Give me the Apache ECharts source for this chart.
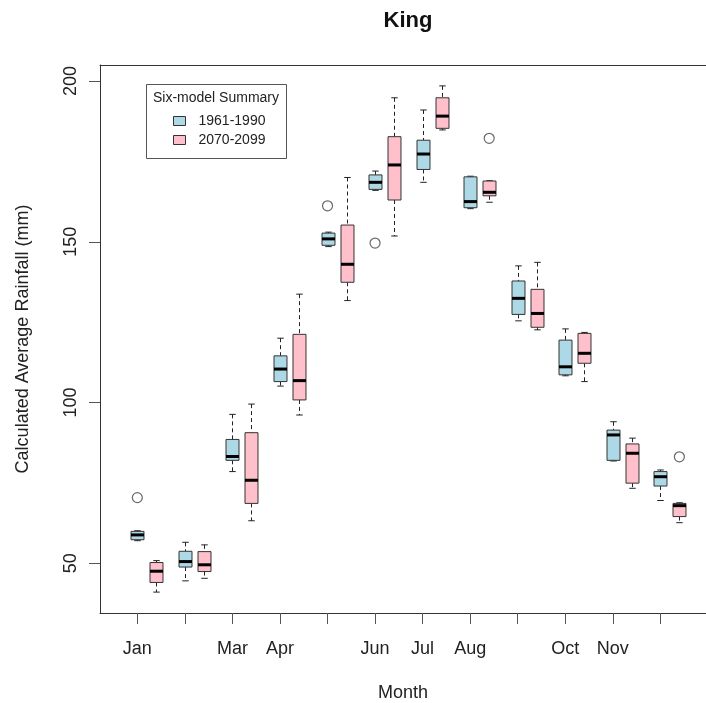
<!DOCTYPE html>
<html>
<head>
<meta charset="utf-8">
<script src="https://cdn.jsdelivr.net/npm/echarts@6/dist/echarts.min.js"></script>
<style>html,body{margin:0;padding:0;background:#fff;}#c{width:706px;height:703px;}</style>
</head>
<body>
<div id="c"></div>
<script>
// ---- data ----
const months = ['Jan','Feb','Mar','Apr','May','Jun','Jul','Aug','Sep','Oct','Nov','Dec'];
const tickLabels = ['Jan','','Mar','Apr','','Jun','Jul','Aug','','Oct','Nov',''];
const yTicks = [50, 100, 150, 200];
const seriesNames = ['1961-1990', '2070-2099'];
// [lower whisker, Q1, median, Q3, upper whisker]
const box1961 = [
  [57.0, 57.3, 58.8, 59.9, 60.1],
  [44.5, 48.8, 50.5, 53.7, 56.5],
  [78.5, 82.0, 83.2, 88.5, 96.3],
  [105.1, 106.5, 110.4, 114.5, 120.0],
  [148.5, 148.9, 150.9, 152.7, 153.0],
  [166.0, 166.3, 168.5, 170.8, 172.0],
  [168.5, 172.5, 177.3, 181.6, 191.0],
  [160.3, 160.6, 162.5, 170.2, 170.4],
  [125.4, 127.4, 132.4, 137.8, 142.5],
  [108.3, 108.6, 111.1, 119.4, 122.9],
  [81.8, 82.0, 89.9, 91.4, 94.0],
  [69.5, 74.0, 76.9, 78.5, 79.0]
];
const box2070 = [
  [41.0, 44.0, 47.5, 50.2, 50.8],
  [45.3, 47.4, 49.5, 53.6, 55.7],
  [63.2, 68.6, 75.8, 90.6, 99.5],
  [96.1, 100.8, 106.8, 121.2, 133.7],
  [131.7, 137.4, 143.0, 155.2, 170.0],
  [151.8, 163.0, 173.9, 182.7, 194.8],
  [184.8, 185.3, 189.1, 194.8, 198.5],
  [162.3, 164.3, 165.4, 168.9, 169.0],
  [122.6, 123.4, 127.7, 135.2, 143.6],
  [106.5, 112.2, 115.3, 121.5, 121.8],
  [73.3, 74.9, 84.2, 87.1, 88.9],
  [62.6, 64.5, 67.9, 68.6, 68.8]
];
// outliers: [month index, value]
const out1961 = [[0, 70.4], [4, 161.2], [5, 149.6]];
const out2070 = [[7, 182.2], [11, 83.1]];

// ---- build ----
const OFFSET = 0.4;
const colors = ['#ADD8E6', '#FFC0CB'];
const FONT = 'Liberation Sans, Arial, Helvetica, sans-serif';
const X_MIN = 0.215, X_MAX = 12.96;

function boxData(arr, off) {
  return arr.map((d, i) => [i + 1 + off].concat(d));
}
function outData(arr, off) {
  return arr.map(d => [d[0] + 1 + off, d[1]]);
}
function renderBox(params, api) {
  const x = api.value(0);
  const lo = api.coord([x, api.value(1)]);
  const q1 = api.coord([x, api.value(2)]);
  const md = api.coord([x, api.value(3)]);
  const q3 = api.coord([x, api.value(4)]);
  const hi = api.coord([x, api.value(5)]);
  const unit = api.size([1, 0])[0];
  const w = unit * 0.273;
  const cw = w / 2;
  const cx = Math.round(lo[0]) + 0.5;
  const ln = (x1, y1, x2, y2, st) => ({ type: 'line', shape: { x1, y1, x2, y2 }, style: st });
  const wStyle = { stroke: '#222', lineWidth: 1, lineDash: [4, 3] };
  const cStyle = { stroke: '#222', lineWidth: 1 };
  return {
    type: 'group',
    children: [
      ln(cx, hi[1], cx, q3[1], wStyle),
      ln(cx, q1[1], cx, lo[1], wStyle),
      ln(cx - cw / 2, hi[1], cx + cw / 2, hi[1], cStyle),
      ln(cx - cw / 2, lo[1], cx + cw / 2, lo[1], cStyle),
      { type: 'rect', shape: { x: cx - w / 2, y: q3[1], width: w, height: q1[1] - q3[1] },
        style: { fill: api.visual('color'), stroke: '#333', lineWidth: 1 } },
      ln(cx - w / 2, md[1], cx + w / 2, md[1], { stroke: '#000', lineWidth: 3 })
    ]
  };
}

const chart = echarts.init(document.getElementById('c'), null, { renderer: 'canvas' });
const option = {
  backgroundColor: '#fff',
  animation: false,
  textStyle: { fontFamily: FONT },
  title: {
    text: 'King', left: 408, top: 10, padding: 0, textAlign: 'center',
    textStyle: { fontFamily: FONT, fontSize: 22, fontWeight: 'bold', color: '#111' }
  },
  grid: { left: 100, top: 65, bottom: 90, right: 0, show: false, outerBoundsMode: 'none', containLabel: false },
  legend: {
    data: seriesNames.map(n => ({ name: n, icon: 'rect' })),
    orient: 'vertical', left: 173, top: 114, padding: 0,
    itemWidth: 12, itemHeight: 9, itemGap: 5,
    itemStyle: { borderColor: '#333', borderWidth: 1 },
    textStyle: { fontFamily: FONT, fontSize: 14, color: '#222', padding: [0, 0, 0, 8] },
    selectedMode: false
  },
  graphic: [
    { type: 'rect', shape: { x: 146.5, y: 84.5, width: 140, height: 74 },
      style: { fill: 'none', stroke: '#555', lineWidth: 1 }, z: 10 },
    { type: 'text', x: 216, y: 98, style: { text: 'Six-model Summary', font: '14px ' + FONT,
      fill: '#222', textAlign: 'center', textVerticalAlign: 'middle' }, z: 10 }
  ],
  xAxis: [{
    type: 'value', min: X_MIN, max: X_MAX, position: 'bottom',
    name: 'Month', nameLocation: 'middle', nameGap: 71,
    nameTextStyle: { fontFamily: FONT, fontSize: 18, color: '#222' },
    axisLine: { show: true, onZero: false, lineStyle: { color: '#333' } },
    axisTick: { show: true, length: 11, customValues: months.map((m, i) => i + 1), lineStyle: { color: '#555' } },
    axisLabel: { show: true, margin: 27, fontSize: 18, color: '#222', fontFamily: FONT,
      customValues: months.map((m, i) => i + 1),
      formatter: v => tickLabels[Math.round(v) - 1] || '' },
    splitLine: { show: false }
  }, {
    type: 'value', min: X_MIN, max: X_MAX, position: 'top',
    axisLine: { show: true, onZero: false, lineStyle: { color: '#333' } },
    axisTick: { show: false }, axisLabel: { show: false }, splitLine: { show: false }
  }],
  yAxis: {
    type: 'value', min: 34.5, max: 205,
    name: 'Calculated Average Rainfall (mm)', nameLocation: 'middle', nameGap: 68, nameRotate: 90,
    nameTextStyle: { fontFamily: FONT, fontSize: 18, color: '#222' },
    axisLine: { show: true, onZero: false, lineStyle: { color: '#333' } },
    axisTick: { show: true, length: 11, customValues: yTicks, lineStyle: { color: '#555' } },
    axisLabel: { show: true, rotate: 90, margin: 20, fontSize: 18, color: '#222', fontFamily: FONT,
      customValues: yTicks },
    splitLine: { show: false }
  },
  series: [
    { name: seriesNames[0], type: 'custom', renderItem: renderBox,
      itemStyle: { color: colors[0] }, encode: { x: 0, y: [1, 2, 3, 4, 5] },
      data: boxData(box1961, 0) },
    { name: seriesNames[1], type: 'custom', renderItem: renderBox,
      itemStyle: { color: colors[1] }, encode: { x: 0, y: [1, 2, 3, 4, 5] },
      data: boxData(box2070, OFFSET) },
    { name: 'out1961', type: 'scatter', symbol: 'circle', symbolSize: 10,
      itemStyle: { color: 'rgba(0,0,0,0)', borderColor: '#444', borderWidth: 1.2 },
      data: outData(out1961, 0) },
    { name: 'out2070', type: 'scatter', symbol: 'circle', symbolSize: 10,
      itemStyle: { color: 'rgba(0,0,0,0)', borderColor: '#444', borderWidth: 1.2 },
      data: outData(out2070, OFFSET) }
  ]
};
chart.setOption(option);
</script>
</body>
</html>
